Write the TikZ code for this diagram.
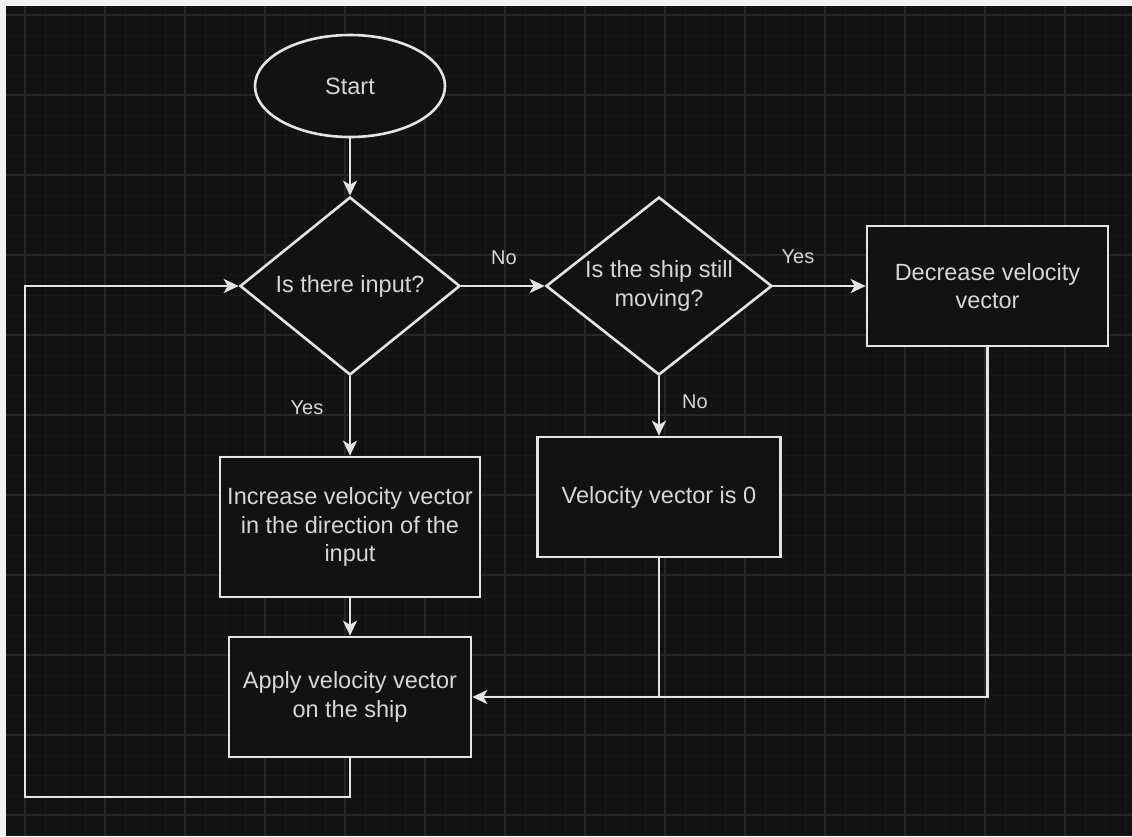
\documentclass[tikz,border=0pt]{standalone}
\usepackage{fontspec}
\setmainfont{Liberation Sans}
\usetikzlibrary{shapes.geometric,arrows.meta}
\definecolor{bg}{HTML}{121212}
\definecolor{gridminor}{HTML}{1A1A1A}
\definecolor{gridmajor}{HTML}{262626}
\definecolor{ink}{HTML}{E4E4E4}
\definecolor{txt}{HTML}{D6D6D6}
\definecolor{edge}{HTML}{F2F2F2}
\begin{document}
\begin{tikzpicture}[x=1pt,y=-1pt,
  base/.style={draw=ink, line width=2.6pt, fill=bg, text=txt, inner sep=0pt, align=center,
    font=\fontsize{23.5}{28.5}\selectfont},
  term/.style={base, ellipse, minimum width=190pt, minimum height=102pt},
  decis/.style={base, diamond, aspect=1.27},
  proc/.style={base, rectangle, minimum height=120pt},
  arr/.style={draw=ink, line width=2.6pt, -{Stealth[length=15pt,width=14pt,inset=4pt]}},
  conn/.style={draw=ink, line width=2.6pt},
  lbl/.style={text=txt, font=\fontsize{20}{24}\selectfont, inner sep=0pt}]
\useasboundingbox (0,0) rectangle (1132,836);
% background
\fill[bg] (0,0) rectangle (1132,836);
\fill[edge] (0,0) rectangle (1132,6);
\fill[edge] (0,0) rectangle (6,836);
\begin{scope}
\clip (6,6) rectangle (1132,836);
\foreach \x in {5,25,...,1125} \draw[gridminor, line width=1pt] (\x,6) -- (\x,836);
\foreach \y in {15,35,...,835} \draw[gridminor, line width=1pt] (6,\y) -- (1132,\y);
\foreach \x in {25,105,...,1105} \draw[gridmajor, line width=1.4pt] (\x,6) -- (\x,836);
\foreach \y in {15,95,...,815} \draw[gridmajor, line width=1.4pt] (6,\y) -- (1132,\y);
\end{scope}
% nodes
\node[term] (start) at (350,86) {Start};
\node[decis, minimum width=220pt, minimum height=178pt] (d1) at (350,286) {Is there input?};
\node[decis, minimum width=226pt, minimum height=178pt] (d2) at (659,286) {Is the ship still\\moving?};
\node[proc, minimum width=241pt] (dcr) at (987.5,286) {Decrease velocity\\vector};
\node[proc, minimum width=260pt, minimum height=140pt] (inc) at (350,527) {Increase velocity vector\\in the direction of the\\input};
\node[proc, minimum width=243pt] (v0) at (659,497) {Velocity vector is 0};
\node[proc, minimum width=242pt] (apply) at (350,697) {Apply velocity vector\\on the ship};
% helper coordinates
\coordinate (join) at (659,697);
\coordinate (loopB) at (25,797);
% connectors
\draw[arr] (start) -- (d1);
\draw[arr] (d1.east) -- (d2.west);
\draw[arr] (d2.east) -- (dcr.west);
\draw[arr] (d1.south) -- (inc.north);
\draw[arr] (d2.south) -- (v0.north);
\draw[arr] (inc.south) -- (apply.north);
\draw[conn] (dcr.south) |- (join);
\draw[arr] (v0.south) -- (join) -- (apply.east);
\draw[arr] (apply.south) |- (loopB) |- (d1.west);
% labels
\node[lbl] (lno1) at (504,258) {No};
\node[lbl] (lyes2) at (798,257) {Yes};
\node[lbl] (lno2) at (695,402) {No};
\node[lbl] (lyes1) at (307,408) {Yes};
\end{tikzpicture}
\end{document}
